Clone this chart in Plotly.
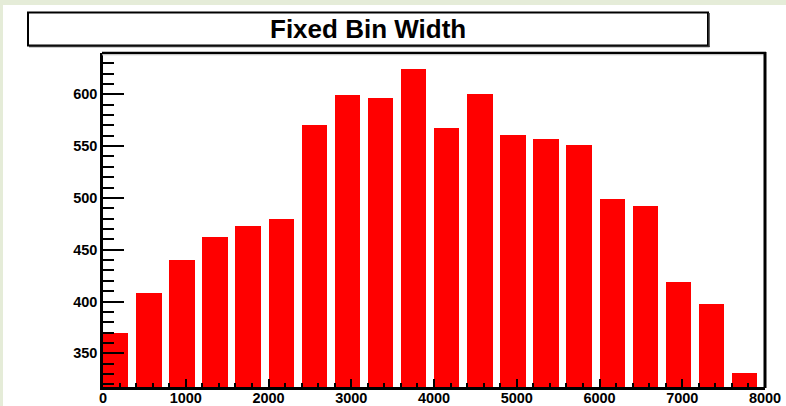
import numpy as np
import plotly.graph_objects as go

# Histogram content: 20 fixed-width bins over [0, 8000)
bin_width = 400
bin_low_edges = np.arange(0, 8000, bin_width)
counts = [370, 408, 440, 462, 473, 480, 570, 599, 596, 624,
          567, 600, 561, 557, 551, 499, 492, 419, 398, 331]
title_text = "Fixed Bin Width"

# Canvas geometry (pixels)
W, H = 786, 406
ML, MR, MT, MB = 103, 21, 53, 19
PW, PH = W - ML - MR, H - MT - MB


def px(x):
    return (x - ML) / PW


def py(y):
    return (H - MB - y) / PH


fig = go.Figure(
    go.Bar(
        x=bin_low_edges,
        y=counts,
        width=0.77 * bin_width,
        offset=0,
        marker=dict(color="#ff0000", line=dict(width=0)),
        hoverinfo="x+y",
    )
)

tick_font = dict(family="Liberation Sans, Arial, sans-serif", size=14.5,
                 color="black", weight="bold")

fig.update_xaxes(
    range=[0, 8000], tick0=0, dtick=1000,
    ticks="inside", ticklen=8, tickwidth=2, tickcolor="black",
    minor=dict(dtick=200, ticks="inside", ticklen=4, tickwidth=2,
               tickcolor="black"),
    showline=True, linewidth=2.5, linecolor="black",
    showgrid=False, zeroline=False, tickfont=tick_font,
    ticklabelstandoff=-4,
    automargin=False,
)
fig.update_yaxes(
    range=[317.5, 639.8], tick0=0, dtick=50,
    ticks="inside", ticklen=21, tickwidth=2, tickcolor="black",
    minor=dict(dtick=10, ticks="inside", ticklen=11, tickwidth=2,
               tickcolor="black"),
    showline=True, linewidth=2.5, linecolor="black",
    showgrid=False, zeroline=False, tickfont=tick_font,
    automargin=False,
)

shapes = [
    # white pad over the tinted canvas
    dict(type="rect", xref="paper", yref="paper", layer="below",
         x0=px(3), x1=px(W + 2), y0=py(5), y1=py(H + 2),
         fillcolor="white", line=dict(width=0)),
    # frame: top and right edges
    dict(type="line", xref="paper", yref="paper",
         x0=px(102), x1=px(766), y0=py(53), y1=py(53),
         line=dict(color="black", width=2.5)),
    dict(type="line", xref="paper", yref="paper",
         x0=px(102), x1=px(765), y0=py(54.8), y1=py(54.8),
         line=dict(color="#c8c8c8", width=1)),
    dict(type="line", xref="paper", yref="paper",
         x0=px(765), x1=px(765), y0=py(52), y1=py(388),
         line=dict(color="black", width=3)),
    # title pave with shadow
    dict(type="rect", xref="paper", yref="paper",
         x0=px(28), x1=px(708), y0=py(12.5), y1=py(45.5),
         fillcolor="white", line=dict(color="black", width=2)),
    dict(type="line", xref="paper", yref="paper",
         x0=px(709), x1=px(709), y0=py(13), y1=py(47),
         line=dict(color="#333333", width=1.5)),
    dict(type="line", xref="paper", yref="paper",
         x0=px(29), x1=px(709.5), y0=py(46.6), y1=py(46.6),
         line=dict(color="#333333", width=1.5)),
]

fig.update_layout(
    width=W, height=H,
    margin=dict(l=ML, r=MR, t=MT, b=MB, pad=0, autoexpand=False),
    paper_bgcolor="#e5ecd8",
    plot_bgcolor="white",
    showlegend=False,
    bargap=0,
    shapes=shapes,
    annotations=[
        dict(text=title_text, xref="paper", yref="paper",
             x=px(368), y=py(29), xanchor="center", yanchor="middle",
             showarrow=False,
             font=dict(family="Liberation Sans, Arial, sans-serif",
                       size=26, color="black", weight="bold")),
    ],
)

fig.write_html("out.html")
